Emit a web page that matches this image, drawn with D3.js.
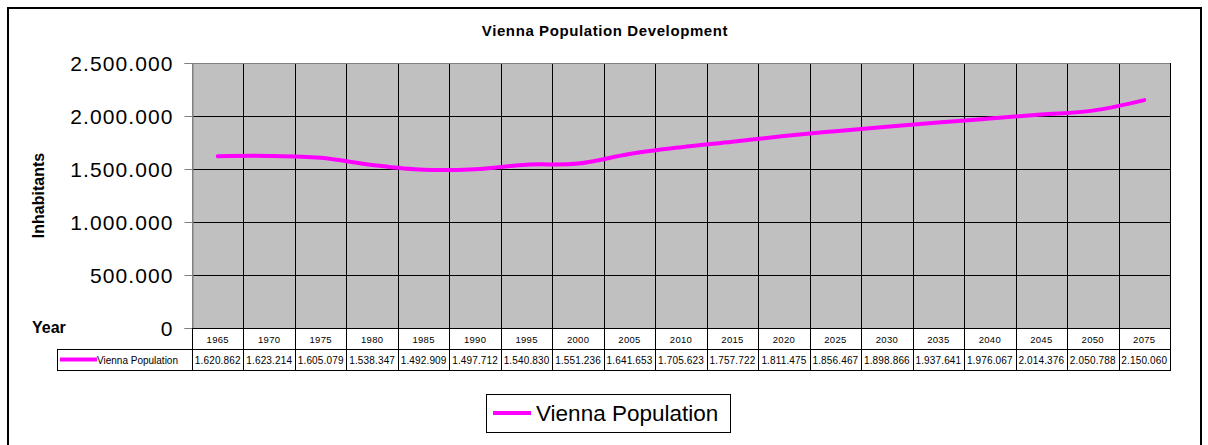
<!DOCTYPE html>
<html>
<head>
<meta charset="utf-8">
<style>
html, body { margin: 0; padding: 0; background: #fff; }
svg { display: block; font-family: "Liberation Sans", Arial, sans-serif; }
</style>
</head>
<body>
<svg width="1208" height="445"></svg>
<script src="https://d3js.org/d3.v7.min.js"></script>
<script>
// chart data
var years = ["1965", "1970", "1975", "1980", "1985", "1990", "1995", "2000", "2005", "2010",
             "2015", "2020", "2025", "2030", "2035", "2040", "2045", "2050", "2075"];
var population = [1620862, 1623214, 1605079, 1538347, 1492909, 1497712, 1540830, 1551236, 1641653, 1705623,
                  1757722, 1811475, 1856467, 1898866, 1937641, 1976067, 2014376, 2050788, 2150060];
var yTicks = [0, 500000, 1000000, 1500000, 2000000, 2500000];
var seriesName = "Vienna Population";
var title = "Vienna Population Development";

var svg = d3.select("svg");
var plot = {left: 192, right: 1170, top: 63, bottom: 328};
var row1 = 349, row2 = 370;

var de = d3.formatLocale({decimal: ",", thousands: ".", grouping: [3], currency: ["", " €"]});
var fmt = de.format(",");

var x = d3.scaleBand().domain(years).range([plot.left, plot.right]).padding(0);
var y = d3.scaleLinear().domain([0, 2500000]).range([plot.bottom, plot.top]);

// outer frame
svg.append("rect")
    .attr("x", 8).attr("y", 8).attr("width", 1193).attr("height", 450)
    .attr("fill", "#fff").attr("stroke", "#000").attr("stroke-width", 2);

svg.append("text")
    .attr("x", 605).attr("y", 36)
    .attr("text-anchor", "middle")
    .attr("font-size", 15).attr("font-weight", "bold")
    .attr("letter-spacing", 0.6)
    .text(title);

// plot area
svg.append("rect")
    .attr("x", plot.left).attr("y", plot.top)
    .attr("width", plot.right - plot.left).attr("height", plot.bottom - plot.top)
    .attr("fill", "#c0c0c0");

// horizontal grid
svg.append("g").selectAll("line")
  .data(yTicks.filter(function(d) { return d > 0 && d < 2500000; }))
  .join("line")
    .attr("x1", plot.left).attr("x2", plot.right)
    .attr("y1", function(d) { return Math.round(y(d)) + 0.5; })
    .attr("y2", function(d) { return Math.round(y(d)) + 0.5; })
    .attr("stroke", "#000");

// vertical grid (through plot and table)
svg.append("g").selectAll("line")
  .data(years.slice(1))
  .join("line")
    .attr("x1", function(d) { return Math.round(x(d)) + 0.5; })
    .attr("x2", function(d) { return Math.round(x(d)) + 0.5; })
    .attr("y1", plot.top).attr("y2", row2)
    .attr("stroke", "#000");

// plot border
svg.append("rect")
    .attr("x", plot.left + 0.5).attr("y", plot.top + 0.5)
    .attr("width", plot.right - plot.left).attr("height", plot.bottom - plot.top)
    .attr("fill", "none").attr("stroke", "#808080");

// y axis
var yAxis = svg.append("g")
    .attr("transform", "translate(" + (plot.left + 0.5) + ",0)")
    .call(d3.axisLeft(y).tickValues(yTicks).tickFormat(fmt).tickSize(8).tickPadding(11));
yAxis.select(".domain").attr("stroke", "#808080");
yAxis.selectAll(".tick line").attr("stroke", "#808080");
yAxis.selectAll("text")
    .attr("font-family", "Liberation Sans, Arial, sans-serif")
    .attr("font-size", 21).attr("letter-spacing", 1.1).attr("fill", "#000")
    .attr("dy", "0.36em");

svg.append("text")
    .attr("transform", "translate(44," + ((plot.top + plot.bottom) / 2) + ") rotate(-90)")
    .attr("text-anchor", "middle")
    .attr("font-size", 16).attr("font-weight", "bold")
    .text("Inhabitants");

svg.append("text")
    .attr("x", 32).attr("y", 333)
    .attr("font-size", 16).attr("font-weight", "bold")
    .text("Year");

// data table
var tbl = svg.append("g").attr("stroke", "#000").attr("fill", "none");
tbl.append("line").attr("x1", plot.left).attr("x2", plot.right)
    .attr("y1", plot.bottom + 0.5).attr("y2", plot.bottom + 0.5);
tbl.append("line").attr("x1", 57).attr("x2", plot.right)
    .attr("y1", row1 + 0.5).attr("y2", row1 + 0.5);
tbl.append("line").attr("x1", 57).attr("x2", plot.right)
    .attr("y1", row2 + 0.5).attr("y2", row2 + 0.5);
tbl.append("line").attr("x1", 57.5).attr("x2", 57.5).attr("y1", row1).attr("y2", row2);
tbl.append("line").attr("x1", plot.left + 0.5).attr("x2", plot.left + 0.5).attr("y1", plot.bottom).attr("y2", row2);
tbl.append("line").attr("x1", plot.right + 0.5).attr("x2", plot.right + 0.5).attr("y1", plot.top).attr("y2", row2 + 1);

svg.append("g").selectAll("text")
  .data(years)
  .join("text")
    .attr("x", function(d) { return x(d) + x.bandwidth() / 2; })
    .attr("y", (plot.bottom + row1) / 2 + 4)
    .attr("text-anchor", "middle")
    .attr("font-size", 9.5).attr("letter-spacing", 0.3)
    .text(function(d) { return d; });

svg.append("g").selectAll("text")
  .data(population)
  .join("text")
    .attr("x", function(d, i) { return x(years[i]) + x.bandwidth() / 2; })
    .attr("y", (row1 + row2) / 2 + 4)
    .attr("text-anchor", "middle")
    .attr("font-size", 10).attr("letter-spacing", 0.15)
    .text(function(d) { return fmt(d); });

svg.append("line")
    .attr("x1", 60).attr("x2", 97)
    .attr("y1", (row1 + row2) / 2).attr("y2", (row1 + row2) / 2)
    .attr("stroke", "#ff00ff").attr("stroke-width", 4);
svg.append("text")
    .attr("x", 97).attr("y", (row1 + row2) / 2 + 4)
    .attr("font-size", 10)
    .text(seriesName);

// series line
var line = d3.line()
    .x(function(d, i) { return x(years[i]) + x.bandwidth() / 2; })
    .y(function(d) { return y(d); })
    .curve(d3.curveCatmullRom.alpha(0));
svg.append("path")
    .datum(population)
    .attr("fill", "none")
    .attr("stroke", "#ff00ff")
    .attr("stroke-width", 4)
    .attr("stroke-linecap", "round")
    .attr("d", line);

// legend
var lg = svg.append("g");
lg.append("rect")
    .attr("x", 486.5).attr("y", 394.5).attr("width", 244).attr("height", 38)
    .attr("fill", "#fff").attr("stroke", "#000");
lg.append("line")
    .attr("x1", 493).attr("x2", 531).attr("y1", 413).attr("y2", 413)
    .attr("stroke", "#ff00ff").attr("stroke-width", 4);
lg.append("text")
    .attr("x", 536).attr("y", 421)
    .attr("font-size", 22.5)
    .text(seriesName);
</script>
</body>
</html>
